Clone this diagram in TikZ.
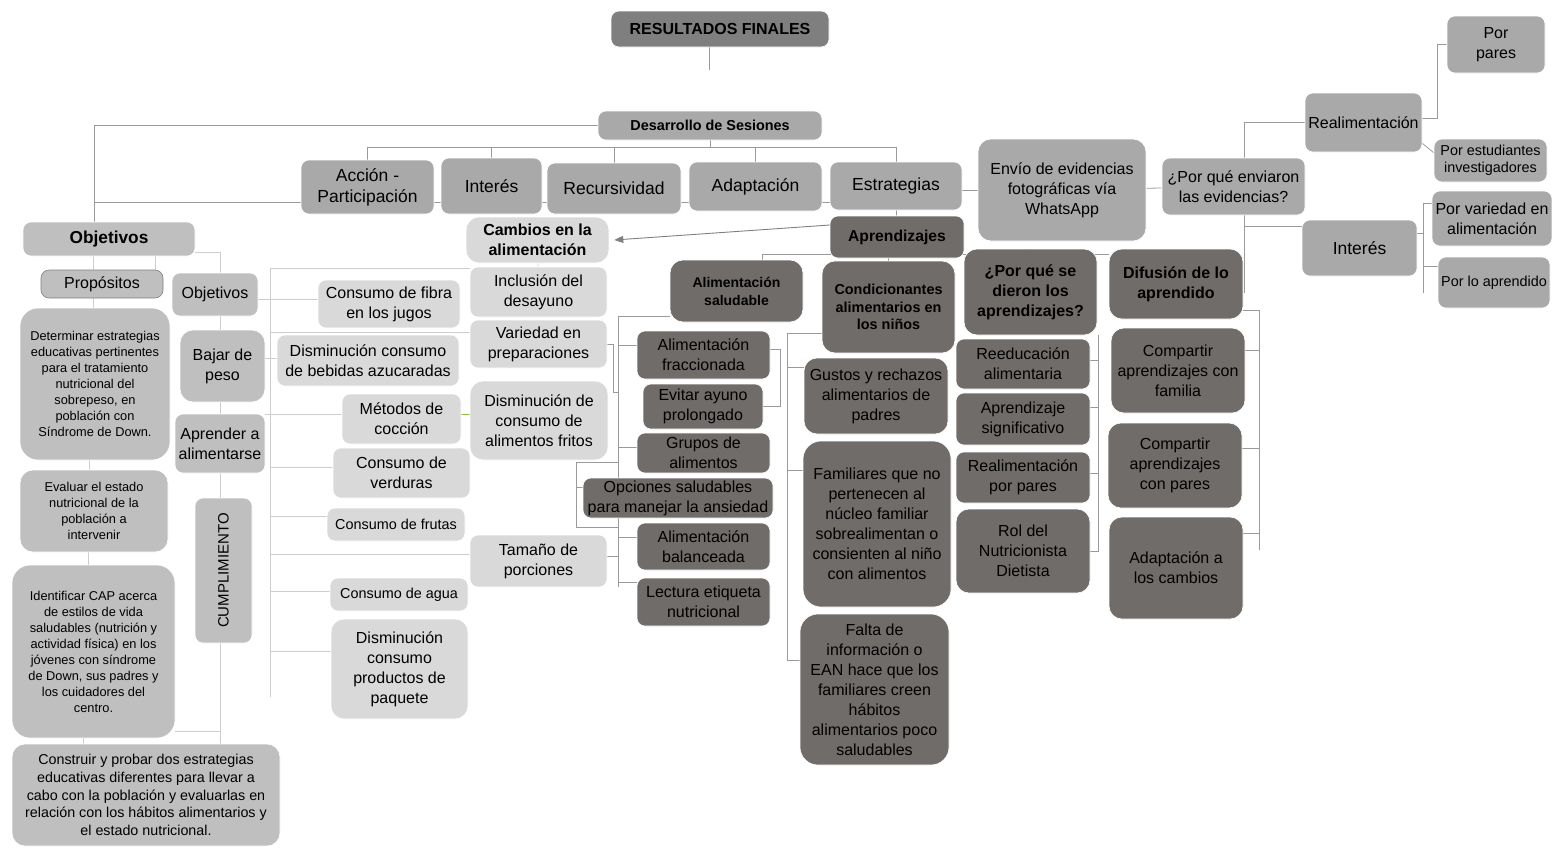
\documentclass[tikz,border=0pt]{standalone}
\usepackage{fontspec}
\setmainfont{Liberation Sans}
\usepackage{xcolor}
\usetikzlibrary{arrows.meta, positioning, backgrounds}

\definecolor{titlegray}{HTML}{7F7F7F}
\definecolor{midgray}{HTML}{A9A9A9}
\definecolor{objgray}{HTML}{BFBFBF}
\definecolor{palegray}{HTML}{D9D9D9}
\definecolor{deepgray}{HTML}{706C6A}
\definecolor{wiregray}{HTML}{9A9A9A}
\definecolor{palewiregray}{HTML}{CDCDCD}
\definecolor{leafgreen}{HTML}{8DC63F}

\newcommand{\fsz}[2]{\fontsize{#1}{#2}\selectfont}

\tikzset{
    box/.style={rounded corners=8pt, align=center, inner sep=2pt, draw=white, line width=0.6pt, font=\fsz{16}{20}},
    roundbig/.style={rounded corners=18pt},
    roundmid/.style={rounded corners=13pt},
    titlebox/.style={box, fill=titlegray, font=\bfseries\fsz{16}{20}},
    midbox/.style={box, fill=midgray},
    objbox/.style={box, fill=objgray},
    palebox/.style={box, fill=palegray},
    deepbox/.style={box, fill=deepgray},
    boldtext/.style={font=\bfseries\fsz{16}{20}},
    largetext/.style={font=\fsz{17.5}{21}},
    smalltext/.style={font=\fsz{14.4}{17}},
    tinytext/.style={font=\fsz{12.8}{16}},
    wh/.style 2 args={minimum width=#1, minimum height=#2},
    wire/.style={draw=wiregray, line width=0.8pt},
    palewire/.style={draw=palewiregray, line width=0.8pt},
}

\begin{document}
\begin{tikzpicture}[x=1pt, y=-1pt]
    \useasboundingbox (0,0) rectangle (1552,847);

    % top
    \node[titlebox, wh={218}{36}] (resultados) at (720,29) {RESULTADOS FINALES};
    \node[midbox, wh={224}{29}, font=\bfseries\fsz{14.4}{17}] (desarrollo) at (710,125.5) {Desarrollo de Sesiones};

    \node[midbox, largetext, wh={133}{54}] (accion) at (367.5,187) {Acción -\\Participación};
    \node[midbox, largetext, wh={101}{56}] (interes) at (491.5,186) {Interés};
    \node[midbox, largetext, wh={134}{51}] (recursividad) at (614,188.5) {Recursividad};
    \node[midbox, largetext, wh={133}{49}] (adaptacion) at (755.5,186.5) {Adaptación};
    \node[midbox, largetext, wh={132}{48}] (estrategias) at (896,186) {Estrategias};
    \node[midbox, roundmid, wh={168}{102}] (envio) at (1062,190) {Envío de evidencias\\fotográficas vía\\WhatsApp};
    \node[midbox, wh={143}{57}] (enviaron) at (1233.5,186.5) {¿Por qué enviaron\\las evidencias?};
    \node[midbox, wh={117}{59}] (realimentacion) at (1363.5,122.5) {Realimentación};
    \node[midbox, largetext, wh={115}{56}] (interesdos) at (1359.5,248) {Interés};
    \node[midbox, wh={98}{57}] (porpares) at (1496,44.5) {Por\\pares};
    \node[midbox, smalltext, wh={113}{43}] (porestudiantes) at (1490.5,160.5) {Por estudiantes\\investigadores};
    \node[midbox, wh={120}{55}] (porvariedad) at (1492,218.5) {Por variedad en\\alimentación};
    \node[midbox, smalltext, wh={112}{51}] (porlo) at (1494,282.5) {Por lo aprendido};

    % objetivos
    \node[objbox, wh={172}{34}, font=\bfseries\fsz{17.3}{20}] (objetivos) at (109,239) {Objetivos};
    \node[objbox, draw=gray, wh={122}{28}] (propositos) at (102,284) {Propósitos};
    \node[objbox, roundbig, tinytext, wh={150}{152}] (determinar) at (95,384) {Determinar estrategias\\educativas pertinentes\\para el tratamiento\\nutricional del\\sobrepeso, en\\población con\\Síndrome de Down.};
    \node[objbox, roundmid, tinytext, wh={148}{82}] (evaluar) at (94,511) {Evaluar el estado\\nutricional de la\\población a\\intervenir};
    \node[objbox, roundbig, tinytext, wh={163}{173}] (identificar) at (93.5,651.5) {Identificar CAP acerca\\de estilos de vida\\saludables (nutrición y\\actividad física) en los\\jóvenes con síndrome\\de Down, sus padres y\\los cuidadores del\\centro.};
    \node[objbox, roundmid, font=\fsz{14.3}{17.7}, wh={268}{102}] (construir) at (146,795) {Construir y probar dos estrategias\\educativas diferentes para llevar a\\cabo con la población y evaluarlas en\\relación con los hábitos alimentarios y\\el estado nutricional.};
    \node[objbox, wh={86}{43}] (objmenor) at (215,294.5) {Objetivos};
    \node[objbox, roundmid, wh={85}{72}] (bajar) at (222.5,366) {Bajar de\\peso};
    \node[objbox, wh={90}{59}] (aprender) at (220,443.5) {Aprender a\\alimentarse};
    \node[objbox, rotate=90, font=\fsz{15}{18}, wh={145}{57}] (cumplimiento) at (223.5,570.5) {CUMPLIMIENTO};

    % cambios
    \node[palebox, wh={142}{48}] (fibra) at (389,304) {Consumo de fibra\\en los jugos};
    \node[palebox, wh={182}{51}] (bebidas) at (368,360.5) {Disminución consumo\\de bebidas azucaradas};
    \node[palebox, wh={119}{50}] (metodos) at (401.5,419) {Métodos de\\cocción};
    \node[palebox, wh={137}{50}] (verduras) at (401.5,473) {Consumo de\\verduras};
    \node[palebox, smalltext, wh={138}{33}] (frutas) at (396,524.5) {Consumo de frutas};
    \node[palebox, smalltext, wh={138}{33}] (agua) at (399,594.5) {Consumo de agua};
    \node[palebox, roundmid, wh={137}{100}] (paquete) at (399.5,669) {Disminución\\consumo\\productos de\\paquete};
    \node[palebox, roundmid, boldtext, wh={143}{46}] (cambios) at (537.5,240) {Cambios en la\\alimentación};
    \node[palebox, wh={137}{50}] (inclusion) at (538.5,292) {Inclusión del\\desayuno};
    \node[palebox, wh={137}{48}] (variedad) at (538.5,344) {Variedad en\\preparaciones};
    \node[palebox, roundmid, wh={138}{79}] (fritos) at (539,420.5) {Disminución de\\consumo de\\alimentos fritos};
    \node[palebox, wh={137}{52}] (tamano) at (538.5,561) {Tamaño de\\porciones};

    % aprendizajes
    \node[deepbox, font=\bfseries\fsz{15.7}{20}, wh={134}{42}] (aprendizajes) at (897,237) {Aprendizajes};
    \node[deepbox, roundmid, font=\bfseries\fsz{14}{18}, wh={133}{62}] (alimsaludable) at (736.5,291) {Alimentación\\saludable};
    \node[deepbox, wh={133}{48}] (fraccionada) at (703.5,355) {Alimentación\\fraccionada};
    \node[deepbox, wh={120}{45}] (ayuno) at (703,406.5) {Evitar ayuno\\prolongado};
    \node[deepbox, wh={133}{40}] (grupos) at (703.5,453) {Grupos de\\alimentos};
    \node[deepbox, wh={190}{40}] (opciones) at (678,498) {Opciones saludables\\para manejar la ansiedad};
    \node[deepbox, wh={133}{47}] (balanceada) at (703.5,546.5) {Alimentación\\balanceada};
    \node[deepbox, wh={133}{48}] (lectura) at (703.5,602) {Lectura etiqueta\\nutricional};
    \node[deepbox, roundmid, font=\bfseries\fsz{14.4}{17.5}, wh={133}{92}] (condicionantes) at (888.5,307) {Condicionantes\\alimentarios en\\los niños};
    \node[deepbox, roundmid, wh={144}{76}] (gustos) at (876,396) {Gustos y rechazos\\alimentarios de\\padres};
    \node[deepbox, roundbig, wh={148}{166}] (familiares) at (877,524) {Familiares que no\\pertenecen al\\núcleo familiar\\sobrealimentan o\\consienten al niño\\con alimentos};
    \node[deepbox, roundbig, wh={149}{151}] (falta) at (874.5,689.5) {Falta de\\información o\\EAN hace que los\\familiares creen\\hábitos\\alimentarios poco\\saludables};
    \node[deepbox, roundmid, boldtext, wh={133}{86}] (sedieron) at (1030.5,292) {¿Por qué se\\dieron los\\aprendizajes?};
    \node[deepbox, wh={134}{50}] (reeducacion) at (1023,364) {Reeducación\\alimentaria};
    \node[deepbox, wh={134}{52}] (significativo) at (1023,419) {Aprendizaje\\significativo};
    \node[deepbox, wh={134}{51}] (realpares) at (1023,477.5) {Realimentación\\por pares};
    \node[deepbox, roundmid, wh={134}{84}] (rol) at (1023,551) {Rol del\\Nutricionista\\Dietista};
    \node[deepbox, roundmid, boldtext, wh={134}{70}] (difusion) at (1176,284) {Difusión de lo\\aprendido};
    \node[deepbox, roundmid, wh={134}{85}] (compfamilia) at (1178,370.5) {Compartir\\aprendizajes con\\familia};
    \node[deepbox, roundmid, wh={134}{85}] (comppares) at (1175,465.5) {Compartir\\aprendizajes\\con pares};
    \node[deepbox, roundmid, wh={134}{102}] (adaptcambios) at (1176,568) {Adaptación a\\los cambios};

    \draw[draw=gray, line width=0.9pt, -{Triangle[length=9pt,width=7pt]}] ([yshift=12pt]aprendizajes.west) -- ([xshift=5pt]cambios.east);

    \begin{scope}[on background layer]
        \coordinate (rtail) at (709,70);
        \coordinate (bus) at (0,147);
        \coordinate (row) at (94,202);
        \coordinate (abus) at (0,254);
        \coordinate (sv) at (618,587);
        \coordinate (vj) at (613,392);
        \coordinate (oa) at (576,462);
        \coordinate (ob) at (576,527);
        \coordinate (cv) at (787,660);
        \coordinate (pv) at (1098,550);
        \coordinate (dv) at (1259,550);
        \coordinate (ev) at (1244,293);
        \coordinate (iv) at (1423,293);
        \coordinate (mv) at (220,744);
        \coordinate (ctop) at (270,268);
        \coordinate (cbot) at (270,697);

        \draw[wire] (resultados.south -| rtail) -- (rtail);
        \draw[wire] (desarrollo.west) -| (row |- objetivos.north);
        \draw[wire] (row) -- (row -| estrategias.west);
        \draw[wire] (accion |- bus) -- (estrategias |- bus);
        \foreach \n in {desarrollo,accion,interes,recursividad,adaptacion,estrategias}
            \draw[wire] (\n) -- (\n |- bus);
        \draw[wire] (estrategias) -- (aprendizajes);
        \draw[wire] (envio.west) -- (envio.west -| estrategias.east);
        \draw[wire] (envio) -- (enviaron);
        \draw[wire] (realimentacion.west) -| (ev);
        \draw[wire] ([yshift=22pt]interesdos.west) -- ([yshift=22pt]interesdos.west -| ev);
        \draw[wire] (porpares.west) -| ([xshift=15pt,yshift=4pt]realimentacion.east) -- ([yshift=4pt]realimentacion.east);
        \draw[wire] ([yshift=9pt]realimentacion.south east) -- ([yshift=-14pt]porestudiantes.north west);
        \draw[wire] ([yshift=15pt]interesdos.east) -- ([yshift=15pt]interesdos.east -| iv);
        \draw[wire] ([yshift=15.5pt]porvariedad.west) -| (iv);
        \draw[wire] ([yshift=16.5pt]porlo.west) -| (iv);

        \draw[wire] ([xshift=25.5pt]alimsaludable.north) |- (abus -| difusion.west);
        \draw[wire] (condicionantes) -- (condicionantes |- abus);
        \draw[wire] (sedieron) -- (sedieron |- abus);

        \draw[wire] ([yshift=-25pt]alimsaludable.west) -| (sv);
        \draw[wire] ([yshift=10pt]fraccionada.west) -| (sv);
        \draw[wire] ([yshift=6pt]grupos.west) -| (sv);
        \draw[wire] (variedad.east) -| (vj) -- (vj -| sv);
        \draw[wire] (oa -| sv) -- (oa) -- (ob) -- (ob -| sv);
        \draw[wire] ([yshift=11pt]opciones.west) -- ([yshift=11pt]opciones.west -| oa);
        \draw[wire] ([yshift=9.5pt]balanceada.west) -| (sv);
        \draw[wire] ([yshift=20pt]lectura.west) -| (sv);
        \draw[wire] ([yshift=5pt]tamano.east) -- ([yshift=5pt]tamano.east -| sv);
        \draw[wire] ([yshift=6pt]fraccionada.east) -- ++(10,0) |- (ayuno.east);

        \draw[wire] ([yshift=-26pt]condicionantes.west) -| (cv);
        \draw[wire] ([yshift=29pt]gustos.west) -| (cv);
        \draw[wire] ([yshift=54pt]familiares.west) -| (cv);
        \draw[wire] ([yshift=29.5pt]falta.west) -| (cv);

        \draw[wire] (sedieron.south east -| pv) -- (pv);
        \draw[wire] ([yshift=4pt]reeducacion.east) -| (pv);
        \draw[wire] ([yshift=12pt]significativo.east) -| (pv);
        \draw[wire] ([yshift=4.5pt]realpares.east) -| (pv);
        \draw[wire] (rol.east) -| (pv);

        \draw[wire] ([yshift=-26pt]difusion.east) -| (dv);
        \draw[wire] ([yshift=20pt]compfamilia.east) -| (dv);
        \draw[wire] ([yshift=17pt]comppares.east) -| (dv);
        \draw[wire] ([yshift=35pt]adaptcambios.east) -| (dv);

        % left side
        \draw[palewire] ([xshift=-16pt]objetivos.south) -- ([xshift=-16pt]objetivos.south |- propositos.north);
        \draw[palewire] ([xshift=46pt]objetivos.south) -- ([xshift=46pt]objetivos.south |- propositos.north);
        \draw[palewire] ([xshift=-9pt]propositos.south) -- ([xshift=-9pt]propositos.south |- determinar.north);
        \draw[palewire] ([xshift=-6pt]determinar.south) -- ([xshift=-6pt]determinar.south |- evaluar.north);
        \draw[palewire] ([xshift=-6pt]evaluar.south) -- ([xshift=-6pt]evaluar.south |- identificar.north);
        \draw[palewire] ([xshift=-10pt]identificar.south) -- ([xshift=-10pt]identificar.south |- construir.north);
        \draw[palewire] ([yshift=-13pt]objetivos.east) -| (mv);
        \draw[palewire] ([yshift=-80pt]identificar.east) -- ([yshift=-80pt]identificar.east -| mv);

        \draw[palewire] (ctop -| inclusion.west) -- (ctop) -- (cbot);
        \draw[palewire] ([yshift=-4.5pt]objmenor.east) -- ([yshift=5pt]fibra.west);
        \draw[palewire] ([yshift=12pt]variedad.west) -| (cbot);
        \draw[palewire] ([yshift=8pt]bajar.east) -- ([yshift=2.5pt]bebidas.west);
        \draw[palewire] ([yshift=29.5pt]aprender.east) -- ([yshift=5pt]metodos.west);
        \draw[palewire] ([yshift=6pt]verduras.west) -| (cbot);
        \draw[palewire] ([yshift=8.5pt]frutas.west) -| (cbot);
        \draw[palewire] ([yshift=7pt]tamano.west) -| (cbot);
        \draw[palewire] ([yshift=3.5pt]agua.west) -| (cbot);
        \draw[palewire] ([yshift=18pt]paquete.west) -| (cbot);
        \draw[palewire] (cambios) -- (inclusion);
        \draw[draw=leafgreen, line width=0.8pt] ([yshift=5pt]metodos.east) -- ([yshift=5pt]metodos.east -| fritos.west);
    \end{scope}
\end{tikzpicture}
\end{document}
